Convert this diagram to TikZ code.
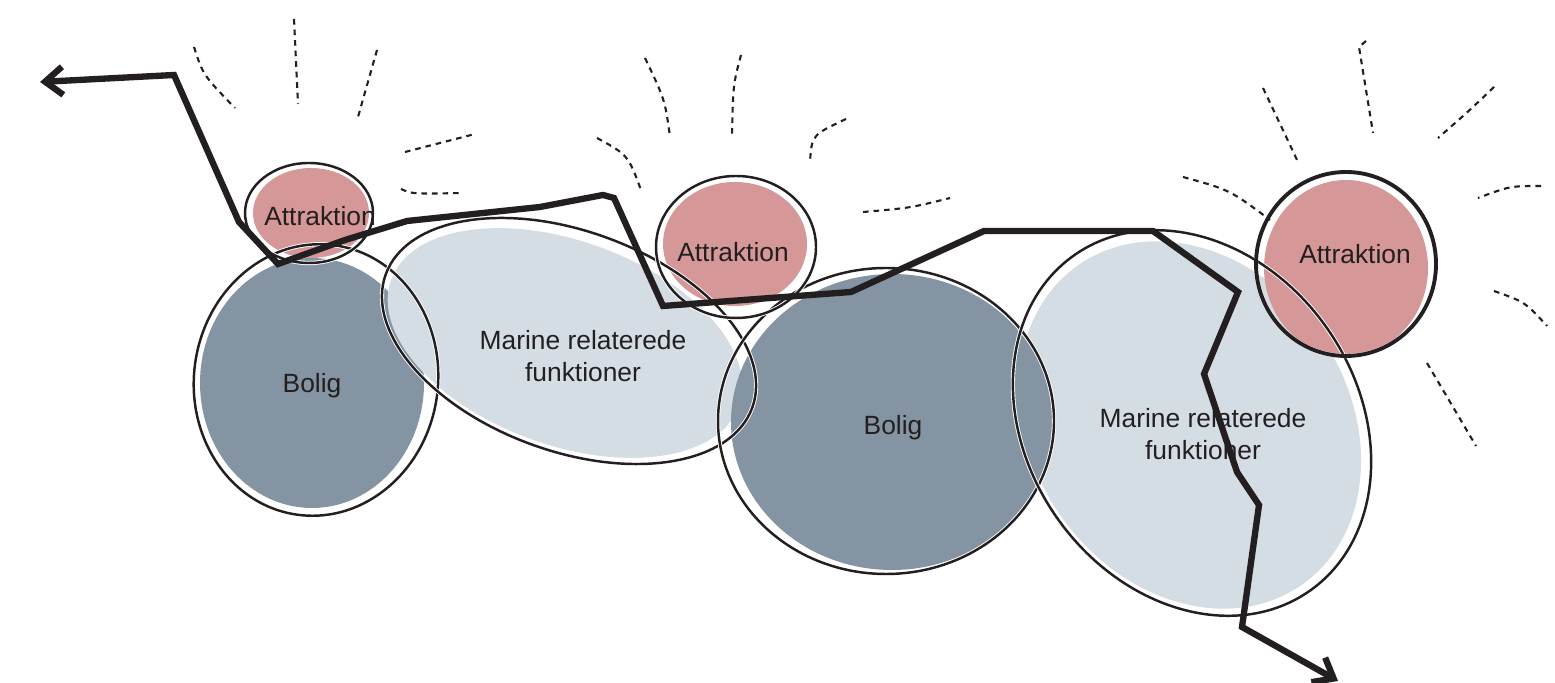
\documentclass[tikz,border=0pt]{standalone}
\usepackage{fontspec}
\setmainfont{Liberation Sans}
\usepackage{tikz}
\usetikzlibrary{arrows.meta,calc}

\definecolor{attrpink}{RGB}{213,151,151}
\definecolor{boligblue}{RGB}{132,148,162}
\definecolor{marineblue}{RGB}{212,220,228}
\definecolor{inkblack}{RGB}{35,31,32}

\tikzset{
    outline/.style={draw=inkblack, line width=0.7pt, preaction={draw=white, line width=1.2pt}},
    tag/.style={text=inkblack, font=\fontsize{7.5}{9}\selectfont, align=center, inner sep=0pt},
    route/.style={draw=inkblack, line width=1.8pt, line join=miter,
        {Straight Barb[length=5pt,width=8pt]}-{Straight Barb[length=5pt,width=8pt]}},
    ray/.style={draw=inkblack, line width=0.6pt, dash pattern=on 1.6pt off 1.4pt},
}

\begin{document}
\begin{tikzpicture}[x=0.01cm,y=-0.01cm]
        \useasboundingbox (0,0) rectangle (1555,683);

        %%% Fills
        \fill[boligblue] (312,383) ellipse [x radius=112, y radius=125];
        \fill[marineblue, rotate around={-20:(565,343)}] (565,343) ellipse [x radius=185, y radius=102];
        \fill[marineblue, rotate around={-55:(1190,425)}] (1190,425) ellipse [x radius=195, y radius=158];
        \fill[boligblue] (892,422) ellipse [x radius=161, y radius=148];
        \fill[attrpink] (311,213) ellipse [x radius=58, y radius=45];
        \fill[attrpink] (735,244) ellipse [x radius=72, y radius=62];
        \fill[attrpink] (1346,268) ellipse [x radius=82, y radius=88];

        %%% Outlines
        \draw[outline, rotate around={-8:(316,380)}] (316,380) ellipse [x radius=122, y radius=136];
        \draw[outline, rotate around={-20:(569,341)}] (569,341) ellipse [x radius=195, y radius=110];
        \draw[outline] (886,421) ellipse [x radius=168, y radius=153];
        \draw[outline, rotate around={-55:(1192,423)}] (1192,423) ellipse [x radius=205, y radius=165];
        \draw[outline] (309,213) ellipse [x radius=64, y radius=50];
        \draw[outline] (736,247) ellipse [x radius=80, y radius=71];
        \draw[outline, line width=1.1pt] (1346,264) ellipse [x radius=90, y radius=92];

        %%% Labels
        \node[tag] (attr1) at (320,216) {Attraktion};
        \node[tag] (bolig1) at (312,386) {Bolig};
        \node[tag] (marine1) at (583,356) {Marine relaterede\\funktioner};
        \node[tag] (attr2) at (733,252) {Attraktion};
        \node[tag] (bolig2) at (893,428) {Bolig};
        \node[tag] (marine2) at (1203,434) {Marine relaterede\\funktioner};
        \node[tag] (attr3) at (1355,254) {Attraktion};

        %%% Route
        \coordinate (routeStart) at (40,82);
        \coordinate (routeEnd) at (1338,681);
        \draw[route] (routeStart) -- (174,75) -- (239,222) -- (278,264) -- (345,240)
            -- (407,221) -- (540,207) -- (603,195) -- (614,198) -- (663,306)
            -- (851,292) -- (984,231) -- (1153,231) -- (1238,292) -- (1204,374)
            -- (1237,472) -- (1259,505) -- (1242,627) -- (routeEnd);

        %%% Rays
        % first attraction
        \draw[ray] (194,47) .. controls (203,75) .. (235,108);
        \draw[ray] (294,19) -- (298,104);
        \draw[ray] (377,50) -- (358,117);
        \draw[ray] (405,152) -- (475,134);
        \draw[ray] (401,189) .. controls (412,194) .. (463,193);
        % second attraction
        \draw[ray] (597,138) .. controls (628,155) .. (641,190);
        \draw[ray] (645,58) .. controls (665,100) .. (670,137);
        \draw[ray] (741,55) .. controls (733,85) .. (732,138);
        \draw[ray] (846,119) .. controls (812,135) .. (810,161);
        \draw[ray] (863,212) .. controls (910,208) .. (950,198);
        % third attraction
        \draw[ray] (1183,177) .. controls (1230,190) .. (1270,220);
        \draw[ray] (1263,88) -- (1298,162);
        \draw[ray] (1366,41) -- (1359,47) -- (1373,133);
        \draw[ray] (1494,87) .. controls (1470,110) .. (1438,138);
        \draw[ray] (1541,186) .. controls (1510,186) .. (1478,198);
        \draw[ray] (1494,291) .. controls (1525,302) .. (1547,326);
        \draw[ray] (1427,363) -- (1476,446);
\end{tikzpicture}
\end{document}
